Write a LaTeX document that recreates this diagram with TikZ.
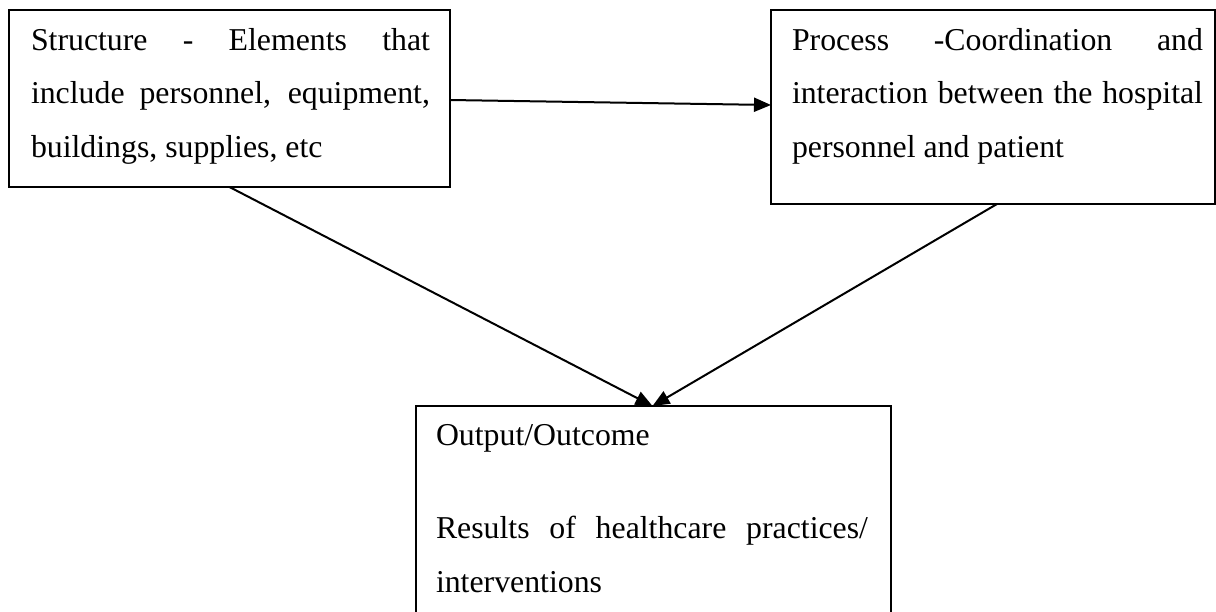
\documentclass[tikz,border=0pt]{standalone}
\usepackage{fontspec}
\setmainfont{Liberation Serif}
\usetikzlibrary{arrows.meta}
\newcommand\jline[2]{\makebox[#1][s]{#2}}
\begin{document}
\begin{tikzpicture}[x=1pt,y=-1pt,
  box/.style={draw=black, line width=2pt, rectangle, inner sep=0pt, outer sep=0pt, anchor=north west},
  txt/.style={anchor=base west, inner sep=0pt, outer sep=0pt, font=\fontsize{31.8}{38}\selectfont},
  arr/.style={line width=2pt, -{Triangle[length=17pt,width=14pt]}}]
\clip (0,0) rectangle (1216,611);
\fill[white] (0,0) rectangle (1216,611);
% boxes
\node[box, minimum width=441pt, minimum height=177pt] (S) at (9,10) {};
\node[box, minimum width=444pt, minimum height=194pt] (P) at (771,10) {};
\node[box, minimum width=475pt, minimum height=230pt] (O) at (416,406) {};
% Structure text
\node[txt] (s1) at (31,50) {\jline{399pt}{Structure - Elements that}};
\node[txt] (s2) at (31,103) {\jline{399pt}{include personnel, equipment,}};
\node[txt] (s3) at (31,157) {buildings, supplies, etc};
% Process text
\node[txt] (p1) at (792,50) {\jline{411pt}{Process -Coordination and}};
\node[txt] (p2) at (792,103) {\jline{411pt}{interaction between the hospital}};
\node[txt] (p3) at (792,157) {personnel and patient};
% Output text
\node[txt] (o1) at (436,445) {Output/Outcome};
\node[txt] (o2) at (436,538) {\jline{432pt}{Results of healthcare practices/}};
\node[txt] (o3) at (436,592) {interventions};
% connectors
\draw[arr] ([yshift=-1.5pt]S.east) -- ([yshift=2pt]P.west);
\draw[arr] (S.south) -- ([xshift=-1pt]O.north);
\draw[arr] ([xshift=4pt]P.south) -- ([xshift=-1pt]O.north);
\end{tikzpicture}
\end{document}
